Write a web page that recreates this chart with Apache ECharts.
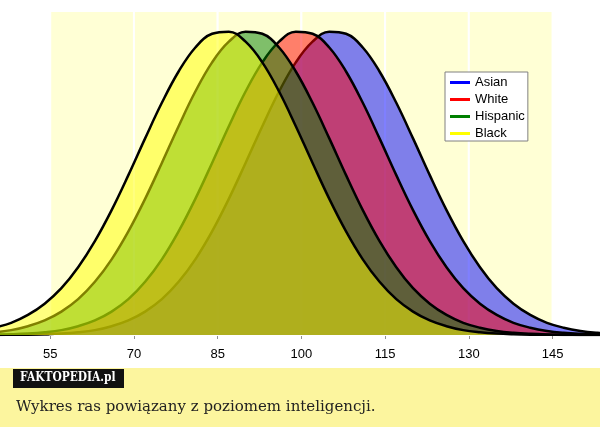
<!DOCTYPE html>
<html>
<head>
<meta charset="utf-8">
<script src="https://cdn.jsdelivr.net/npm/echarts@6/dist/echarts.min.js"></script>
<style>
html,body{margin:0;padding:0;background:#fff;}
#chart{width:600px;height:427px;}
</style>
</head>
<body>
<div id="chart"></div>
<script>
// IQ scores sampled along the x axis
var iqValues = [45,48,51,54,57,60,63,66,69,72,75,78,81,84,87,90,93,96,99,102,105,108,111,114,117,120,123,126,129,132,135,138,141,144,147,150,153,156];
// relative curve heights (percent of peak)
var asian    = [0.03,0.06,0.12,0.25,0.48,0.9,1.6,2.9,4.8,7.7,11.8,17.5,24.9,34.1,44.8,56.6,68.7,80.1,89.7,96.5,99.8,99.1,94.6,86.7,76.4,64.7,52.6,41.1,30.9,22.3,15.4,10.3,6.6,4.0,2.4,1.35,0.74,0.39];
var white    = [0.12,0.25,0.48,0.9,1.6,2.9,4.8,7.7,11.8,17.5,24.9,34.1,44.8,56.6,68.7,80.1,89.7,96.5,99.8,99.1,94.6,86.7,76.4,64.7,52.6,41.1,30.9,22.3,15.4,10.3,6.6,4.0,2.4,1.35,0.74,0.39,0.19,0.09];
var hispanic = [0.9,1.6,2.9,4.8,7.7,11.8,17.5,24.9,34.1,44.8,56.6,68.7,80.1,89.7,96.5,99.8,99.1,94.6,86.7,76.4,64.7,52.6,41.1,30.9,22.3,15.4,10.3,6.6,4.0,2.4,1.35,0.74,0.39,0.19,0.09,0.04,0.02,0.01];
var black    = [2.4,4.0,6.6,10.3,15.4,22.3,30.9,41.1,52.6,64.7,76.4,86.7,94.6,99.1,99.8,96.5,89.7,80.1,68.7,56.6,44.8,34.1,24.9,17.5,11.8,7.7,4.8,2.9,1.6,0.9,0.48,0.25,0.12,0.06,0.03,0.01,0,0];
var groupNames = ['Asian','White','Hispanic','Black'];
var tickLabels = [55,70,85,100,115,130,145];
var captionText = 'Wykres ras powiązany z poziomem inteligencji.';
var logoText = 'FAKTOPEDIA.pl';

var legendColors = ['#0000ff','#ff0000','#008000','#ffff00'];
var fillColors = ['rgba(0,0,255,0.5)','rgba(255,0,0,0.5)','rgba(0,128,0,0.5)','rgba(255,255,0,0.5)'];
var seriesValues = [asian, white, hispanic, black];

function pairs(vals){ return iqValues.map(function(x,i){ return [x, vals[i]]; }); }

var bands = [];
for (var i = 0; i < tickLabels.length - 1; i++) {
  bands.push([{xAxis: tickLabels[i]}, {xAxis: tickLabels[i+1]}]);
}

var series = [{
  type: 'line', data: [], silent: true, z: 1,
  markArea: {
    silent: true, z: 1,
    itemStyle: {color: '#ffffd5', borderColor: '#ffffff', borderWidth: 2},
    data: bands
  }
}];
groupNames.forEach(function(name, k){
  series.push({
    name: name,
    type: 'line',
    z: 3 + k,
    data: pairs(seriesValues[k]),
    smooth: 0.4,
    showSymbol: false,
    symbol: 'none',
    itemStyle: {color: legendColors[k]},
    lineStyle: {color: '#000', width: 2.5},
    areaStyle: {color: fillColors[k], opacity: 1},
    emphasis: {disabled: true}
  });
});

var chart = echarts.init(document.getElementById('chart'), null, {renderer: 'canvas'});
chart.setOption({
  animation: false,
  backgroundColor: '#ffffff',
  grid: {left: 0, right: 0, top: 11, bottom: 92, containLabel: false},
  xAxis: {
    type: 'value', min: 46, max: 153.5,
    axisLine: {show: true, lineStyle: {color: '#a0a0a0', width: 1}},
    axisTick: {show: true, length: 4, lineStyle: {color: '#909090'}, customValues: tickLabels},
    axisLabel: {customValues: tickLabels, color: '#000', fontFamily: 'Liberation Sans, Arial, sans-serif', fontSize: 13, margin: 13},
    splitLine: {show: false}
  },
  yAxis: {type: 'value', min: 0, max: 106.6, show: false, splitLine: {show: false}},
  legend: {
    orient: 'vertical', left: 445, top: 72, z: 20,
    data: groupNames.map(function(n, k){ return {name: n, itemStyle: {color: legendColors[k], borderWidth: 0}}; }),
    icon: 'rect', itemWidth: 20, itemHeight: 3, itemGap: 4,
    padding: [4, 3, 1, 5],
    backgroundColor: '#fff', borderColor: '#808080', borderWidth: 1, borderRadius: 0,
    itemStyle: {borderWidth: 0},
    textStyle: {color: '#000', fontFamily: 'Liberation Sans, Arial, sans-serif', fontSize: 13, lineHeight: 13},
    selectedMode: false
  },
  series: series,
  graphic: [
    {type: 'rect', left: 0, top: 368, shape: {width: 600, height: 59}, style: {fill: '#fcf59e'}, silent: true},
    {type: 'rect', left: 13, top: 369, shape: {width: 111, height: 19}, style: {fill: '#111111'}, silent: true},
    {type: 'text', x: 20, y: 371, scaleX: 0.82, style: {text: logoText, fill: '#ffffff', font: 'bold 13px "DejaVu Serif", serif'}, silent: true},
    {type: 'text', left: 16, top: 400, style: {text: captionText, fill: '#222222', font: '15px "DejaVu Serif", serif'}, silent: true}
  ]
});
</script>
</body>
</html>
